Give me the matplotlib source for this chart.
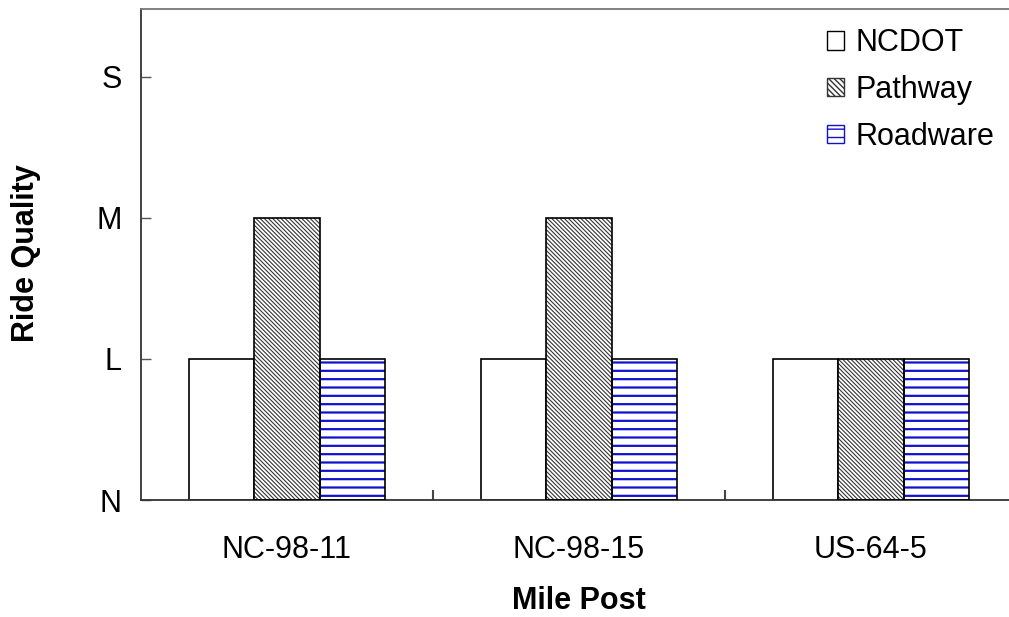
import numpy as np
import matplotlib
matplotlib.use("Agg")
import matplotlib.pyplot as plt
from matplotlib.patches import Patch

plt.rcParams['font.family'] = ['Liberation Sans', 'DejaVu Sans']
plt.rcParams['hatch.linewidth'] = 1.0

# data
mile_posts = ["NC-98-11", "NC-98-15", "US-64-5"]
quality_levels = ["N", "L", "M", "S"]
ncdot = [1, 1, 1]
pathway = [2, 2, 1]
roadware = [1, 1, 1]

fs = 22
path_hatch = "\\" * 8
road_blue = "#1010d0"

fig = plt.figure(figsize=(10.09, 6.17), dpi=100)
ax = fig.add_axes([141 / 1009, 1 - 500 / 617, 876 / 1009, 491 / 617])

x = np.arange(len(mile_posts))
w = 0.223
lw = 1.2

# NCDOT plain white
ax.bar(x - w, ncdot, w, color="white", edgecolor="black", linewidth=lw, zorder=2)

# Pathway dense diagonal hatch
with plt.rc_context({"hatch.linewidth": 0.8}):
    ax.bar(x, pathway, w, color="white", edgecolor="#333333", hatch=path_hatch, linewidth=0, zorder=2)
ax.bar(x, pathway, w, fill=False, edgecolor="black", linewidth=lw, zorder=3)

# Roadware blue horizontal lines
with plt.rc_context({"hatch.linewidth": 1.6}):
    ax.bar(x + w, roadware, w, color="white", edgecolor=road_blue, hatch="--", linewidth=0, zorder=2)
ax.bar(x + w, roadware, w, fill=False, edgecolor="black", linewidth=lw, zorder=3)

ax.set_xlim(-0.5, 2.5)
ax.set_ylim(0, 3.48)
ax.set_yticks(range(len(quality_levels)))
ax.set_yticklabels(quality_levels)
ax.set_xticks(x)
ax.set_xticklabels(mile_posts)
ax.set_xticks([0.5, 1.5], minor=True)

ax.tick_params(axis="y", direction="in", length=7, width=1, labelsize=fs, pad=14, color="#555555")
ax.tick_params(axis="x", which="major", length=0, labelsize=fs, pad=25)
ax.tick_params(axis="x", which="minor", direction="in", length=7, width=1.5, color="#444444")

for s in ["left", "bottom"]:
    ax.spines[s].set_color("#333333")
    ax.spines[s].set_linewidth(1.3)
ax.spines["top"].set_color("#777777")
ax.spines["top"].set_linewidth(1.3)
ax.spines["right"].set_visible(False)

fig.text(26 / 1009, 1 - 253 / 617, "Ride Quality", rotation=90, fontsize=fs, fontweight="bold",
         ha="center", va="center")
fig.text(579 / 1009, 1 - 601 / 617, "Mile Post", fontsize=fs, fontweight="bold",
         ha="center", va="center")

with plt.rc_context({"hatch.linewidth": 1.0}):
    handles = [
        Patch(facecolor="white", edgecolor="black", linewidth=1),
        Patch(facecolor="white", edgecolor="#333333", hatch="\\" * 6, linewidth=1),
        Patch(facecolor="white", edgecolor=road_blue, hatch="--", linewidth=1),
    ]
leg = fig.legend(handles, ["NCDOT", "Pathway", "Roadware"], loc="upper right",
                 bbox_to_anchor=(1007 / 1009, 1 - 16 / 617), frameon=False, fontsize=fs,
                 handlelength=0.55, handleheight=0.55, handletextpad=0.4, labelspacing=0.55,
                 borderaxespad=0)

fig.savefig("out.png", dpi=100)
